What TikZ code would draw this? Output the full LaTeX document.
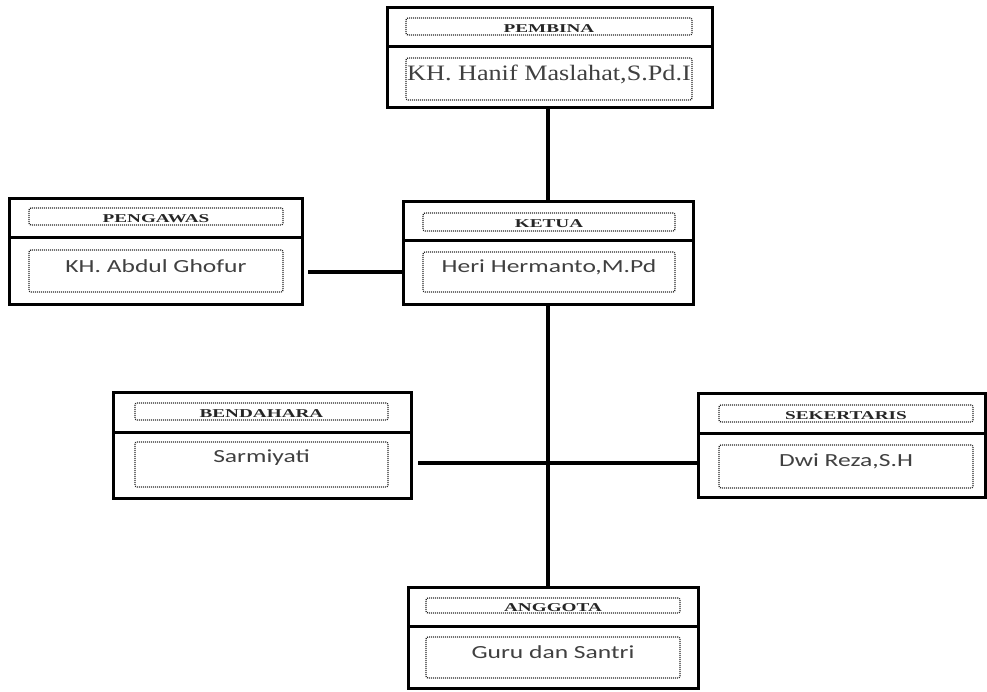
\documentclass[tikz,border=0pt]{standalone}
\usepackage{fontspec}
\setmainfont{Liberation Serif}
\newfontfamily\namefont{Carlito}
\usetikzlibrary{calc}
\tikzset{
  outerbox/.style={draw=black, line width=3pt, rectangle, inner sep=0pt},
  dotbox/.style={draw=black!85, dash pattern=on 1pt off 1pt, line width=1.3pt, rounded corners=2pt, rectangle, inner sep=0pt},
  hdrtxt/.style={inner sep=0pt, font=\fontsize{12}{12}\selectfont\bfseries, text=black!85},
  nametxt/.style={inner sep=0pt, font=\namefont\fontsize{18.5}{18.5}\selectfont, text=black!75},
  serifname/.style={inner sep=0pt, font=\fontsize{22}{22}\selectfont, text=black!75},
  divider/.style={line width=3pt},
  conn/.style={line width=4pt, line cap=butt}
}
\newcommand{\hs}[1]{\scalebox{1.6}[1]{#1}}
\newcommand{\ns}[1]{\scalebox{1.38}[1]{#1}}
\begin{document}
\begin{tikzpicture}[x=1pt,y=-1pt]
\useasboundingbox (0,0) rectangle (987,692);
% PEMBINA
\node[outerbox, minimum width=325, minimum height=100] (pembina) at (549.5,58) {};
\draw[divider] (387,47) -- (712,47);
\node[dotbox, minimum width=286, minimum height=17] (pembinah) at (549,26.5) {};
\node[hdrtxt] (pembinaht) at (549,28.5) {\hs{PEMBINA}};
\node[dotbox, minimum width=286, minimum height=42] (pembinan) at (549,79) {};
\node[serifname] (pembinant) at (549,74) {\scalebox{1.19}[1]{KH. Hanif Maslahat,S.Pd.I}};
% PENGAWAS
\node[outerbox, minimum width=293, minimum height=106] (pengawas) at (155.5,252) {};
\draw[divider] (9,238) -- (302,238);
\node[dotbox, minimum width=254, minimum height=17] (pengawash) at (156,216.5) {};
\node[hdrtxt] (pengawasht) at (156,218.5) {\hs{PENGAWAS}};
\node[dotbox, minimum width=254, minimum height=42] (pengawasn) at (156,271) {};
\node[nametxt] (pengawasnt) at (156,266) {\ns{KH. Abdul Ghofur}};
% KETUA
\node[outerbox, minimum width=290, minimum height=103] (ketua) at (548,253.5) {};
\draw[divider] (403,241) -- (693,241);
\node[dotbox, minimum width=252, minimum height=18] (ketuah) at (549,222) {};
\node[hdrtxt] (ketuaht) at (549,224) {\hs{KETUA}};
\node[dotbox, minimum width=252, minimum height=40] (ketuan) at (549,272) {};
\node[nametxt] (ketuant) at (549,267) {\ns{Heri Hermanto,M.Pd}};
% BENDAHARA
\node[outerbox, minimum width=298, minimum height=106] (bendahara) at (262,445) {};
\draw[divider] (113,432) -- (411,432);
\node[dotbox, minimum width=253, minimum height=17] (bendaharah) at (261.5,411.5) {};
\node[hdrtxt] (bendaharaht) at (261.5,413.5) {\hs{BENDAHARA}};
\node[dotbox, minimum width=253, minimum height=45] (bendaharan) at (261.5,464.5) {};
\node[nametxt] (bendaharant) at (261.5,458) {\ns{Sarmiyati}};
% SEKERTARIS
\node[outerbox, minimum width=287, minimum height=104] (sekertaris) at (841.5,445) {};
\draw[divider] (698,433) -- (985,433);
\node[dotbox, minimum width=254, minimum height=17] (sekertarish) at (846,413.5) {};
\node[hdrtxt] (sekertarisht) at (846,415.5) {\hs{SEKERTARIS}};
\node[dotbox, minimum width=254, minimum height=43] (sekertarisn) at (846,466.5) {};
\node[nametxt] (sekertarisnt) at (846,461) {\ns{Dwi Reza,S.H}};
% ANGGOTA
\node[outerbox, minimum width=290, minimum height=101] (anggota) at (553,637.5) {};
\draw[divider] (408,626) -- (698,626);
\node[dotbox, minimum width=254, minimum height=15] (anggotah) at (553,605.5) {};
\node[hdrtxt] (anggotaht) at (553,607.5) {\hs{ANGGOTA}};
\node[dotbox, minimum width=254, minimum height=41] (anggotan) at (553,657.5) {};
\node[nametxt] (anggotant) at (553,652) {\ns{Guru dan Santri}};
% connectors
\coordinate (spine) at (548,0);
\draw[conn] (spine |- pembina.south) -- (spine |- ketua.north);
\draw[conn] (spine |- ketua.south) -- (spine |- anggota.north);
\coordinate (pgend) at (308,272);
\draw[conn] (pgend) -- (ketua.west |- pgend);
\coordinate (bdend) at (418,463);
\draw[conn] (bdend) -- (sekertaris.west |- bdend);
\end{tikzpicture}
\end{document}
